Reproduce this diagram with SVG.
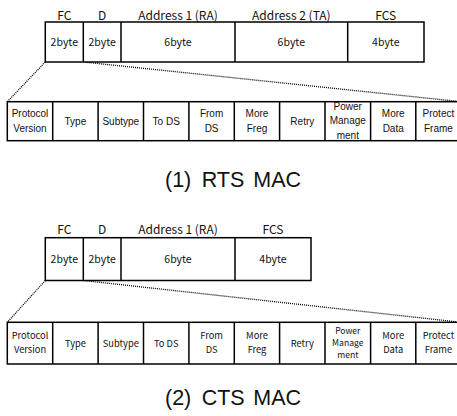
<svg xmlns="http://www.w3.org/2000/svg" width="457" height="416" viewBox="0 0 457 416">
<style>
rect.c{fill:#fff;stroke:#000;stroke-width:1.5}
.h{font-family:"Noto Sans CJK KR","Noto Sans",sans-serif;font-size:12px;text-anchor:middle;fill:#111}
.v{font-family:"Noto Sans CJK KR","Noto Sans",sans-serif;font-size:10.5px;text-anchor:middle;fill:#111}
.a{font-family:"Liberation Sans",Arial,sans-serif;font-size:10px;text-anchor:middle;fill:#111}
.k{font-family:"Noto Sans CJK KR","Noto Sans",sans-serif;font-size:9.3px;text-anchor:middle;fill:#111}
.ks{font-size:8.6px}
.cap{font-family:"Liberation Sans",Arial,sans-serif;font-size:21.5px;fill:#111}
.dot{fill:none;stroke:#000;stroke-width:1.3;stroke-dasharray:1 1}
</style>
<g id="connectors">
<line class="dot" x1="45.3" y1="62" x2="7.3" y2="101.7"/>
<line class="dot" x1="83.3" y1="62" x2="461" y2="101.7"/>
<line class="dot" x1="45.3" y1="280.5" x2="7.3" y2="322.3"/>
<line class="dot" x1="83.3" y1="280.5" x2="461" y2="322.3"/>
</g>
<g id="rts-frame">
<text class="h" x="64.3" y="19.5">FC</text>
<text class="h" x="102.2" y="19.5">D</text>
<text class="h" x="178" y="19.5">Address 1 (RA)</text>
<text class="h" x="291.3" y="19.5">Address 2 (TA)</text>
<text class="h" x="385.8" y="19.5">FCS</text>
<rect class="c" x="45.3" y="22" width="378.7" height="40"/>
<line x1="83.3" y1="22" x2="83.3" y2="62" stroke="#000" stroke-width="1.5"/>
<line x1="121" y1="22" x2="121" y2="62" stroke="#000" stroke-width="1.5"/>
<line x1="235" y1="22" x2="235" y2="62" stroke="#000" stroke-width="1.5"/>
<line x1="347.7" y1="22" x2="347.7" y2="62" stroke="#000" stroke-width="1.5"/>
<text class="v" x="64.3" y="46">2byte</text>
<text class="v" x="102.2" y="46">2byte</text>
<text class="v" x="178" y="46">6byte</text>
<text class="v" x="291.3" y="46">6byte</text>
<text class="v" x="385.8" y="46">4byte</text>
</g>
<g id="rts-fc-fields">
<rect class="c" x="7.3" y="101.7" width="453.7" height="39"/>
<g stroke="#000" stroke-width="1.5">
<line x1="52.7" y1="101.7" x2="52.7" y2="140.7"/>
<line x1="98.1" y1="101.7" x2="98.1" y2="140.7"/>
<line x1="143.5" y1="101.7" x2="143.5" y2="140.7"/>
<line x1="188.9" y1="101.7" x2="188.9" y2="140.7"/>
<line x1="234.3" y1="101.7" x2="234.3" y2="140.7"/>
<line x1="279.6" y1="101.7" x2="279.6" y2="140.7"/>
<line x1="325" y1="101.7" x2="325" y2="140.7"/>
<line x1="370.6" y1="101.7" x2="370.6" y2="140.7"/>
<line x1="415.8" y1="101.7" x2="415.8" y2="140.7"/>
</g>
<text class="a" x="30" y="117">Protocol</text><text class="a" x="30" y="131.5">Version</text>
<text class="a" x="75.4" y="124.5">Type</text>
<text class="a" x="120.8" y="124.5">Subtype</text>
<text class="a" x="166.2" y="124.5">To DS</text>
<text class="a" x="211.6" y="117">From</text><text class="a" x="211.6" y="131.5">DS</text>
<text class="a" x="257" y="117">More</text><text class="a" x="257" y="131.5">Freg</text>
<text class="a" x="302.3" y="124.5">Retry</text>
<text class="a" x="347.8" y="109.5">Power</text><text class="a" x="347.8" y="124">Manage</text><text class="a" x="347.8" y="138.5">ment</text>
<text class="a" x="393.2" y="117">More</text><text class="a" x="393.2" y="131.5">Data</text>
<text class="a" x="438.4" y="117">Protect</text><text class="a" x="438.4" y="131.5">Frame</text>
</g>
<g id="caption-rts">
<text class="cap" y="187"><tspan x="165">(1)</tspan><tspan x="201.7">RTS</tspan><tspan x="253.3">MAC</tspan></text>
</g>
<g id="cts-frame">
<text class="h" x="64.3" y="234">FC</text>
<text class="h" x="102.2" y="234">D</text>
<text class="h" x="178" y="234">Address 1 (RA)</text>
<text class="h" x="273" y="234">FCS</text>
<rect class="c" x="45.3" y="237.7" width="265.7" height="42.8"/>
<line x1="83.3" y1="237.7" x2="83.3" y2="280.5" stroke="#000" stroke-width="1.5"/>
<line x1="121" y1="237.7" x2="121" y2="280.5" stroke="#000" stroke-width="1.5"/>
<line x1="235" y1="237.7" x2="235" y2="280.5" stroke="#000" stroke-width="1.5"/>
<text class="v" x="64.3" y="262.5">2byte</text>
<text class="v" x="102.2" y="262.5">2byte</text>
<text class="v" x="178" y="262.5">6byte</text>
<text class="v" x="273" y="262.5">4byte</text>
</g>
<g id="cts-fc-fields">
<rect class="c" x="7.3" y="322.3" width="453.7" height="41.7"/>
<g stroke="#000" stroke-width="1.5">
<line x1="52.7" y1="322.3" x2="52.7" y2="364"/>
<line x1="98.1" y1="322.3" x2="98.1" y2="364"/>
<line x1="143.5" y1="322.3" x2="143.5" y2="364"/>
<line x1="188.9" y1="322.3" x2="188.9" y2="364"/>
<line x1="234.3" y1="322.3" x2="234.3" y2="364"/>
<line x1="279.6" y1="322.3" x2="279.6" y2="364"/>
<line x1="325" y1="322.3" x2="325" y2="364"/>
<line x1="370.6" y1="322.3" x2="370.6" y2="364"/>
<line x1="415.8" y1="322.3" x2="415.8" y2="364"/>
</g>
<text class="k" x="30" y="338.5">Protocol</text><text class="k" x="30" y="352.5">Version</text>
<text class="k" x="75.4" y="346.5">Type</text>
<text class="k" x="120.8" y="346.5">Subtype</text>
<text class="k" x="166.2" y="346.5">To DS</text>
<text class="k" x="211.6" y="338.5">From</text><text class="k" x="211.6" y="352.5">DS</text>
<text class="k" x="257" y="338.5">More</text><text class="k" x="257" y="352.5">Freg</text>
<text class="k" x="302.3" y="346.5">Retry</text>
<text class="k ks" x="347.8" y="334">Power</text><text class="k ks" x="347.8" y="346.2">Manage</text><text class="k ks" x="347.8" y="358.4">ment</text>
<text class="k" x="393.2" y="338.5">More</text><text class="k" x="393.2" y="352.5">Data</text>
<text class="k" x="438.4" y="338.5">Protect</text><text class="k" x="438.4" y="352.5">Frame</text>
</g>
<g id="caption-cts">
<text class="cap" y="405"><tspan x="165">(2)</tspan><tspan x="201.7">CTS</tspan><tspan x="253.3">MAC</tspan></text>
</g>
</svg>
